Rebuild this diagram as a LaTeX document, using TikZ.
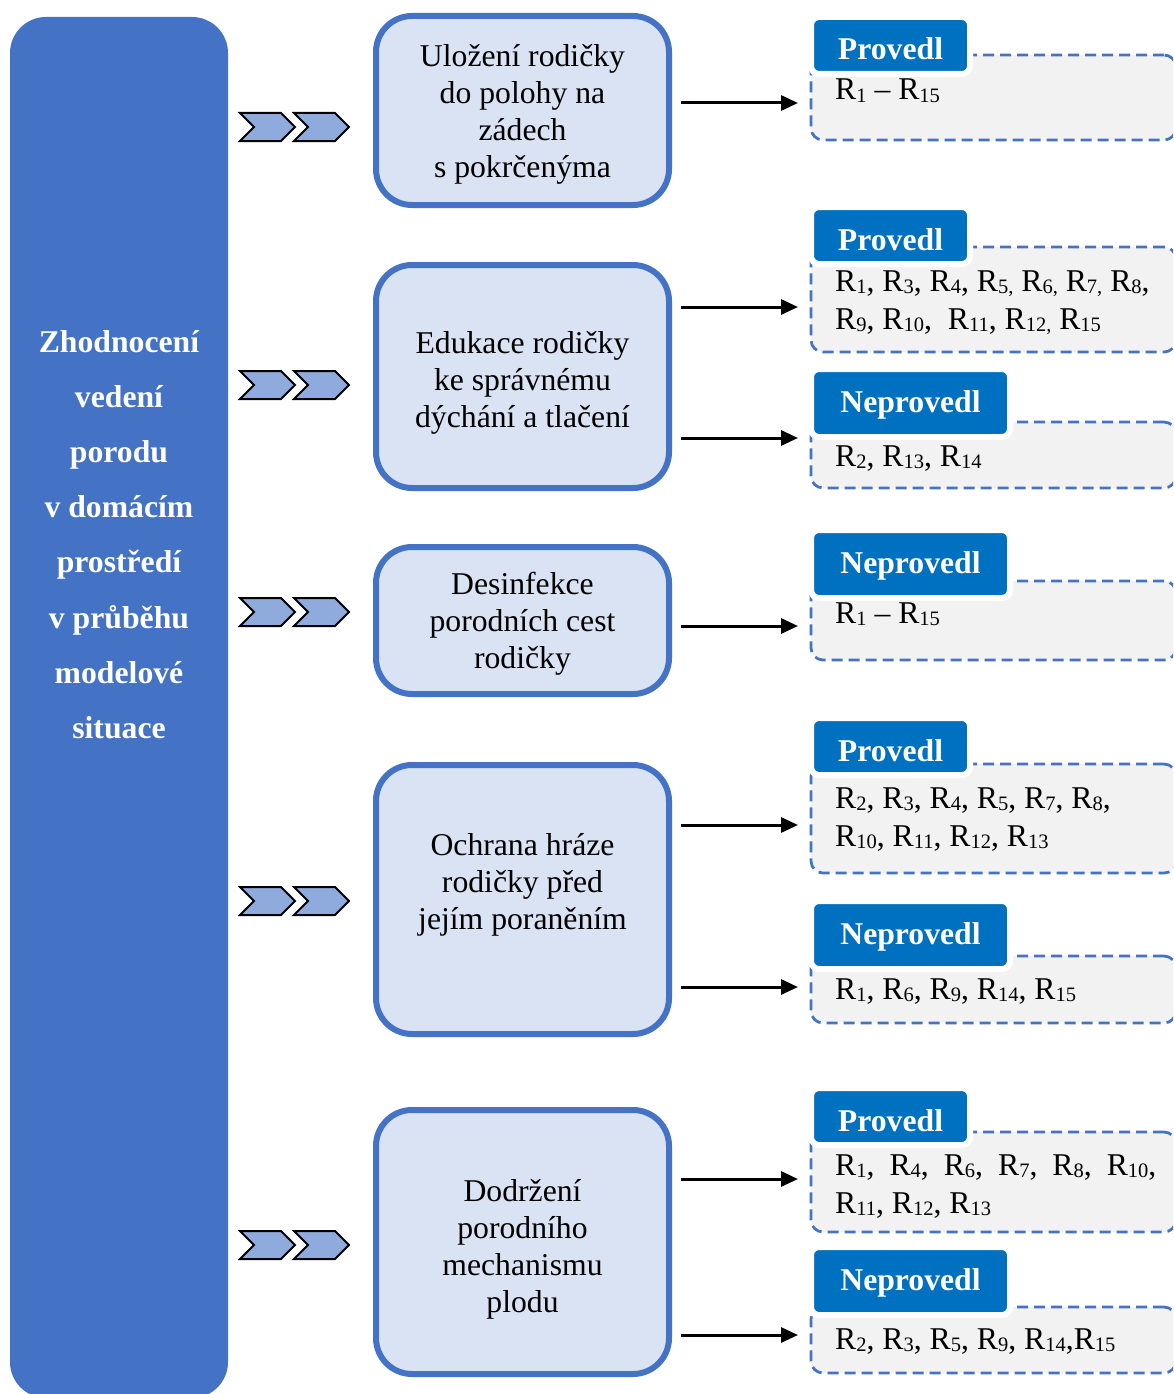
\documentclass[tikz,border=0pt]{standalone}
\usepackage{fontspec}
\setmainfont{Liberation Serif}
\usetikzlibrary{arrows.meta}

\definecolor{mainblue}{HTML}{4472C4}
\definecolor{paleblue}{HTML}{DAE3F3}
\definecolor{chevblue}{HTML}{8FAADC}
\definecolor{tabblue}{HTML}{0070C0}
\definecolor{resgray}{HTML}{F2F2F2}

% lowered small index digits
\newcommand\sbs[1]{\raisebox{-2pt}{\fontsize{20.5}{20.5}\selectfont #1}}
\newcommand\Rn[1]{R\sbs{#1}}
\newcommand\bodyfont{\fontsize{31.7}{37}\selectfont}
\newcommand\wsp{\hspace{15pt}}

\tikzset{
  sidebox/.style={fill=mainblue, rounded corners=36pt, inner sep=0pt, outer sep=0pt,
    minimum width=218pt},
  sidetext/.style={anchor=base, inner sep=0pt, text=white,
    font=\bfseries\fontsize{31.7}{55.1}\selectfont},
  stepbox/.style={draw=mainblue, line width=6pt, fill=paleblue, rounded corners=36pt,
    minimum width=293pt, inner sep=0pt, outer sep=0pt},
  steptext/.style={anchor=base, inner sep=0pt, font=\bodyfont},
  resbox/.style={draw=mainblue, dash pattern=on 11pt off 6pt, line width=2.75pt,
    fill=resgray, rounded corners=12pt, minimum width=365pt, inner sep=0pt,
    outer sep=0pt, anchor=north west},
  restext/.style={anchor=base west, inner sep=0pt, font=\fontsize{31.7}{38}\selectfont},
  tabbox/.style={fill=tabblue, draw=white, line width=6pt, rounded corners=8pt,
    text=white, font=\bfseries\bodyfont, inner sep=0pt, outer sep=0pt,
    text height=43pt, anchor=south west},
  provtab/.style={tabbox, minimum width=159pt, text depth=14pt},
  neprovtab/.style={tabbox, minimum width=199pt, text depth=25pt},
  link/.style={line width=3pt, -{Triangle[length=17pt,width=15pt]},
    shorten <=12pt, shorten >=13pt},
  chevron/.pic={\path[draw=black, line width=2pt, fill=chevblue, line join=miter]
    (0,-14) -- (41,-14) -- (55,0) -- (41,14) -- (0,14) -- (14,0) -- cycle;}
}

\begin{document}
\begin{tikzpicture}[x=1pt, y=-1pt]
\useasboundingbox (0,0) rectangle (1173,1394);
\clip (0,0) rectangle (1173,1394);

% left column
\node[sidebox, minimum height=1381pt] (side) at (119,707.5) {};
\node[sidetext] (sidelbl) at (119,352.5) {\begin{tabular}[t]{@{}c@{}}Zhodnocení\\vedení\\porodu\\v domácím\\prostředí\\v průběhu\\modelové\\situace\end{tabular}};

% chevrons
\foreach \yy in {127,385,612,901,1245} {
  \pic at (240,\yy) {chevron};
  \pic at (294,\yy) {chevron};
}

% steps
\node[stepbox, minimum height=189pt] (m1) at (522.5,110.5) {};
\node[stepbox, minimum height=223pt] (m2) at (522.5,376.5) {};
\node[stepbox, minimum height=147pt] (m3) at (522.5,620.5) {};
\node[stepbox, minimum height=269pt] (m4) at (522.5,899.5) {};
\node[stepbox, minimum height=264pt] (m5) at (522.5,1242) {};

\node[steptext] (m1t) at (522.5,67) {\begin{tabular}[t]{@{}c@{}}Uložení rodičky\\do polohy na\\zádech\\s pokrčenýma\end{tabular}};
\node[steptext] (m2t) at (522.5,353) {\begin{tabular}[t]{@{}c@{}}Edukace rodičky\\ke správnému\\dýchání a tlačení\end{tabular}};
\node[steptext] (m3t) at (522.5,594) {\begin{tabular}[t]{@{}c@{}}Desinfekce\\porodních cest\\rodičky\end{tabular}};
\node[steptext] (m4t) at (522.5,855) {\begin{tabular}[t]{@{}c@{}}Ochrana hráze\\rodičky před\\jejím poraněním\end{tabular}};
\node[steptext] (m5t) at (522.5,1201) {\begin{tabular}[t]{@{}c@{}}Dodržení\\porodního\\mechanismu\\plodu\end{tabular}};

% result panels
\node[resbox, minimum height=85pt]  (r1) at (811,55) {};
\node[resbox, minimum height=105pt] (r2) at (811,247) {};
\node[resbox, minimum height=66pt]  (r3) at (811,422) {};
\node[resbox, minimum height=79pt]  (r4) at (811,581) {};
\node[resbox, minimum height=109pt] (r5) at (811,764) {};
\node[resbox, minimum height=67pt]  (r6) at (811,956) {};
\node[resbox, minimum height=100pt] (r7) at (811,1132) {};
\node[resbox, minimum height=66pt]  (r8) at (811,1307) {};

% headers
\node[provtab]   (t1) at (811,74)   {Provedl};
\node[provtab]   (t2) at (811,264)  {Provedl};
\node[neprovtab] (t3) at (811,437)  {Neprovedl};
\node[neprovtab] (t4) at (811,598)  {Neprovedl};
\node[provtab]   (t5) at (811,775)  {Provedl};
\node[neprovtab] (t6) at (811,969)  {Neprovedl};
\node[provtab]   (t7) at (811,1145) {Provedl};
\node[neprovtab] (t8) at (811,1315) {Neprovedl};

% lists
\node[restext] (l1) at (835,100) {\begin{tabular}[t]{@{}l@{}}\Rn{1} -- \Rn{15}\end{tabular}};
\node[restext] (l2) at (835,291) {\begin{tabular}[t]{@{}l@{}}\Rn{1}, \Rn{3}, \Rn{4}, \Rn{5,} \Rn{6,} \Rn{7,} \Rn{8},\\\Rn{9}, \Rn{10}, \ \Rn{11}, \Rn{12,} \Rn{15}\end{tabular}};
\node[restext] (l3) at (835,466) {\begin{tabular}[t]{@{}l@{}}\Rn{2}, \Rn{13}, \Rn{14}\end{tabular}};
\node[restext] (l4) at (835,623.5) {\begin{tabular}[t]{@{}l@{}}\Rn{1} -- \Rn{15}\end{tabular}};
\node[restext] (l5) at (835,808) {\begin{tabular}[t]{@{}l@{}}\Rn{2}, \Rn{3}, \Rn{4}, \Rn{5}, \Rn{7}, \Rn{8},\\\Rn{10}, \Rn{11}, \Rn{12}, \Rn{13}\end{tabular}};
\node[restext] (l6) at (835,999) {\begin{tabular}[t]{@{}l@{}}\Rn{1}, \Rn{6}, \Rn{9}, \Rn{14}, \Rn{15}\end{tabular}};
\node[restext] (l7) at (835,1175) {\begin{tabular}[t]{@{}l@{}}\Rn{1},\wsp\Rn{4},\wsp\Rn{6},\wsp\Rn{7},\wsp\Rn{8},\wsp\Rn{10},\\\Rn{11}, \Rn{12}, \Rn{13}\end{tabular}};
\node[restext] (l8) at (835,1349) {\begin{tabular}[t]{@{}l@{}}\Rn{2}, \Rn{3}, \Rn{5}, \Rn{9}, \Rn{14},\Rn{15}\end{tabular}};

% connector heights
\coordinate (a1) at (0,103);
\coordinate (a2) at (0,307);
\coordinate (a3) at (0,438);
\coordinate (a4) at (0,626);
\coordinate (a5) at (0,825);
\coordinate (a6) at (0,987);
\coordinate (a7) at (0,1179);
\coordinate (a8) at (0,1335);

\draw[link] (m1.east |- a1) -- (r1.west |- a1);
\draw[link] (m2.east |- a2) -- (r2.west |- a2);
\draw[link] (m2.east |- a3) -- (r3.west |- a3);
\draw[link] (m3.east |- a4) -- (r4.west |- a4);
\draw[link] (m4.east |- a5) -- (r5.west |- a5);
\draw[link] (m4.east |- a6) -- (r6.west |- a6);
\draw[link] (m5.east |- a7) -- (r7.west |- a7);
\draw[link] (m5.east |- a8) -- (r8.west |- a8);
\end{tikzpicture}
\end{document}
